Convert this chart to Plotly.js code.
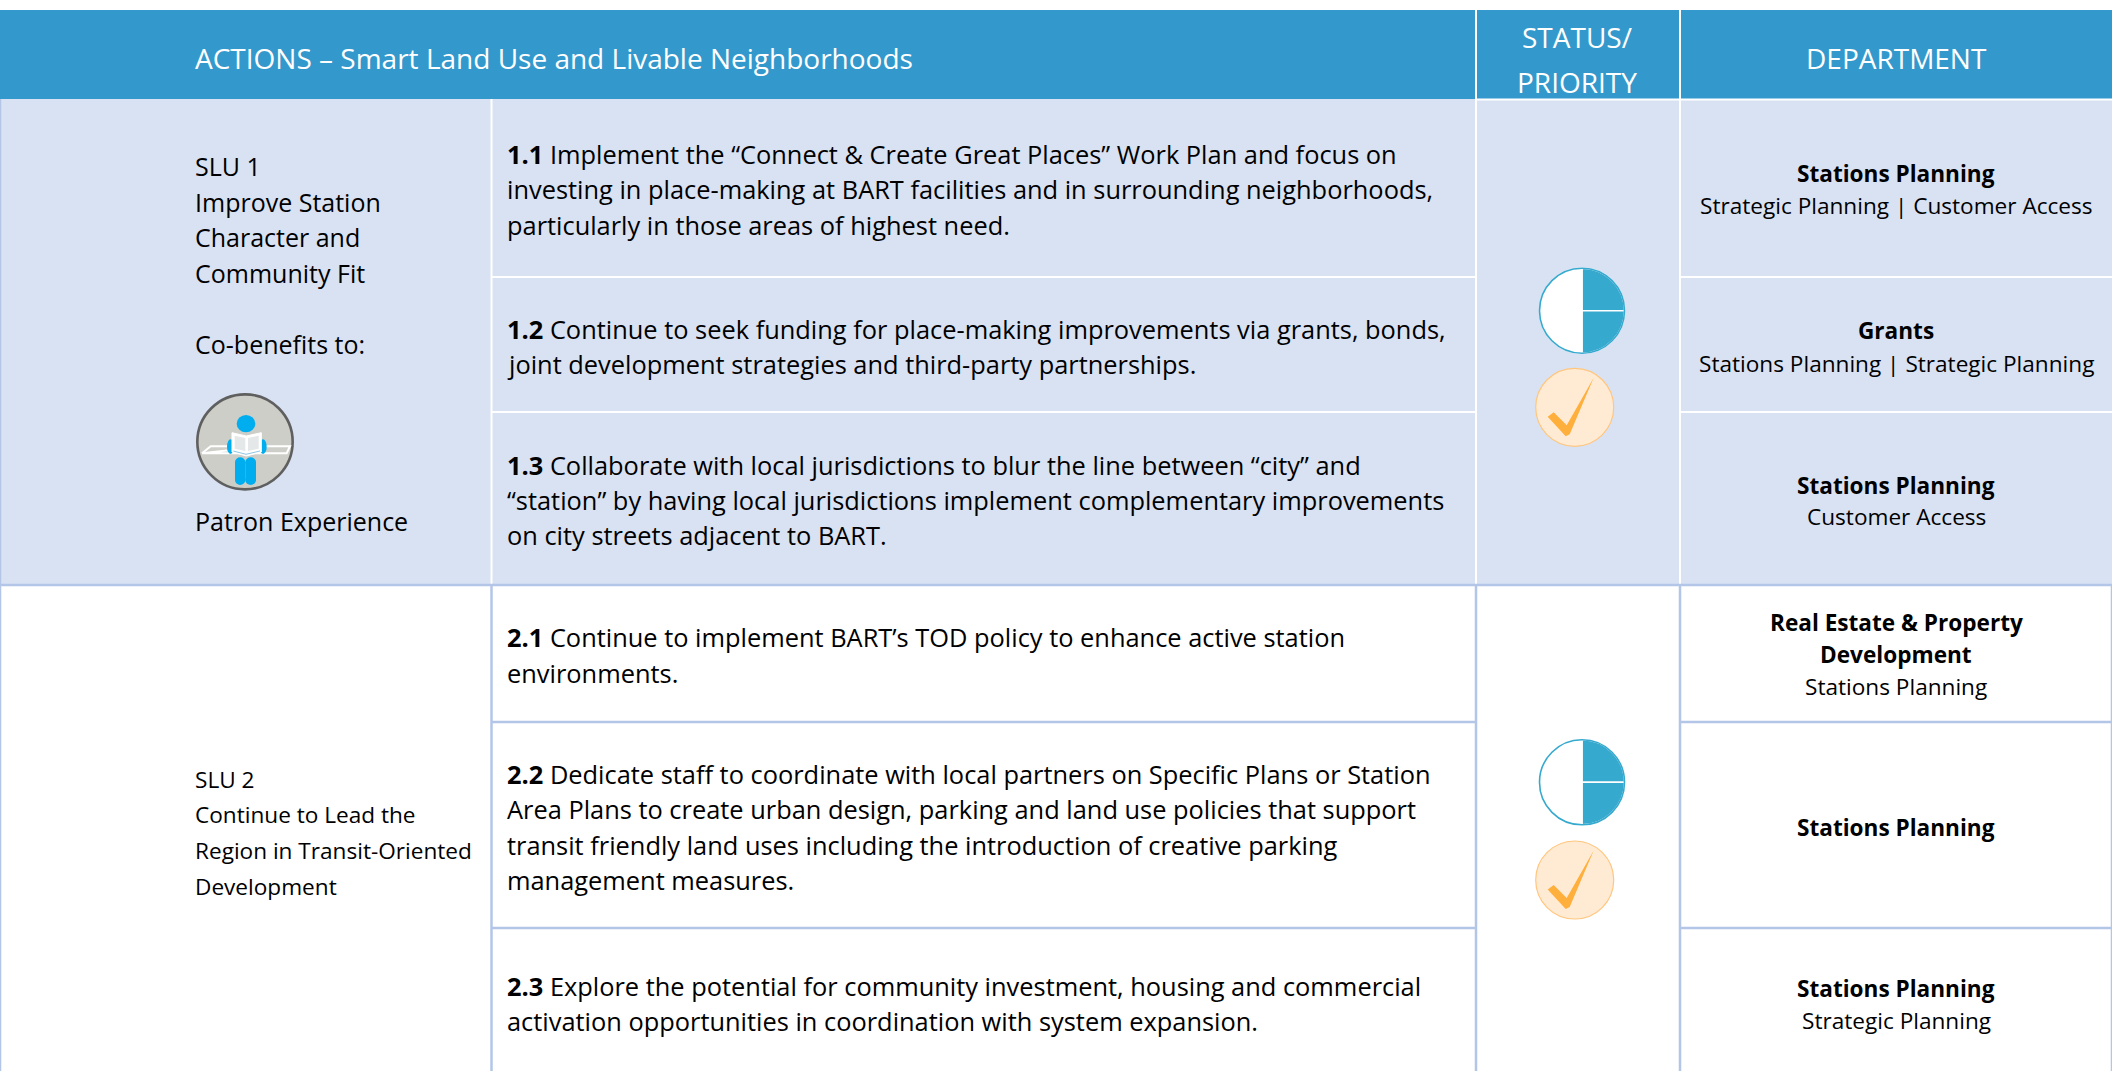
<!DOCTYPE html>
<html><head><meta charset="utf-8">
<script src="https://cdn.plot.ly/plotly-3.0.1.min.js"></script>
<style>html,body{margin:0;padding:0;background:#fff;overflow:hidden}#c{width:2112px;height:1071px}</style>
</head><body><div id="c"></div>
<script>
const FONT='"Open Sans", "Noto Sans", sans-serif';
const BLUE='#3399CC',BAND='#D9E2F3',GRID='#B4C6E7',WHITE='#FFFFFF';
const SIZE=25.4, DEPT=22.6, HEAD=28;

const headerAction=['ACTIONS – Smart Land Use and Livable Neighborhoods'];
const headerStatus=['STATUS/','PRIORITY'];
const headerDept=['DEPARTMENT'];
const slu1=['SLU 1','Improve Station','Character and','Community Fit'];
const slu1Co=['Co-benefits to:'];
const slu1Patron=['Patron Experience'];
const slu2=['SLU 2','Continue to Lead the','Region in Transit-Oriented','Development'];
const a11=['<b>1.1</b> Implement the “Connect & Create Great Places” Work Plan and focus on','investing in place-making at BART facilities and in surrounding neighborhoods,','particularly in those areas of highest need.'];
const a12=['<b>1.2</b> Continue to seek funding for place-making improvements via grants, bonds,','joint development strategies and third-party partnerships.'];
const a13=['<b>1.3</b> Collaborate with local jurisdictions to blur the line between “city” and','“station” by having local jurisdictions implement complementary improvements','on city streets adjacent to BART.'];
const a21=['<b>2.1</b> Continue to implement BART’s TOD policy to enhance active station','environments.'];
const a22=['<b>2.2</b> Dedicate staff to coordinate with local partners on Specific Plans or Station','Area Plans to create urban design, parking and land use policies that support','transit friendly land uses including the introduction of creative parking','management measures.'];
const a23=['<b>2.3</b> Explore the potential for community investment, housing and commercial','activation opportunities in coordination with system expansion.'];
const d11=['<b>Stations Planning</b>','Strategic Planning | Customer Access'];
const d12=['<b>Grants</b>','Stations Planning | Strategic Planning'];
const d13=['<b>Stations Planning</b>','Customer Access'];
const d21=['<b>Real Estate & Property</b>','<b>Development</b>','Stations Planning'];
const d22=['<b>Stations Planning</b>'];
const d23=['<b>Stations Planning</b>','Strategic Planning'];
const statusShare=[25,25,50];

const anns=[];
function put(lines,x,ys,anchor,color,size){
  lines.forEach((t,i)=>anns.push({text:t,x:x,y:ys[i],xref:'x',yref:'y',xanchor:anchor,yanchor:'middle',showarrow:false,
    borderpad:0,align:anchor,font:{family:FONT,size:size||SIZE,color:color||'#000'}}));
}
put(headerAction,194,[57.5],'left','#fff',HEAD);
put(headerStatus,1577,[36.5,81.5],'center','#fff',HEAD);
put(headerDept,1896,[57.5],'center','#fff',HEAD);
put(slu1,194,[166,202,237,273],'left','#000',25);
put(slu1Co,194,[344],'left','#000',25);
put(slu1Patron,194,[521],'left','#000',25);
put(slu2,194,[779,814,850,886],'left','#000',22.6);
put(a11,506,[154,189,225],'left');
put(a12,506,[329,364],'left');
put(a13,506,[465,500,535],'left');
put(a21,506,[637,673],'left');
put(a22,506,[773.5,809,845,880],'left');
put(a23,506,[986,1021],'left');
put(d11,1896,[173.5,205.5],'center','#000',DEPT);
put(d12,1896,[330,363.5],'center','#000',DEPT);
put(d13,1896,[485,516.5],'center','#000',DEPT);
put(d21,1896,[622,654.5,686.5],'center','#000',DEPT);
put(d22,1896,[827],'center','#000',DEPT);
put(d23,1896,[988.5,1020.5],'center','#000',DEPT);

const shapes=[];
function rect(x0,y0,x1,y1,fill,layer){shapes.push({type:'rect',xref:'x',yref:'y',x0,y0,x1,y1,fillcolor:fill,line:{width:0},layer:layer||'below'});}
function seg(x0,y0,x1,y1,c,w){shapes.push({type:'line',xref:'x',yref:'y',x0,y0,x1,y1,line:{color:c,width:w||2},layer:'below'});}
function circ(cx,cy,r,fill,lc,lw,layer){shapes.push({type:'circle',xref:'x',yref:'y',x0:cx-r,x1:cx+r,y0:cy-r,y1:cy+r,fillcolor:fill,line:{color:lc,width:lw},layer:layer||'above'});}
function poly(d,fill,lc,lw){shapes.push({type:'path',xref:'x',yref:'y',path:d,fillcolor:fill,line:{color:lc||fill,width:lw||0},layer:'above'});}

rect(0,10,2112,99,BLUE);
rect(0,99,2112,585,BAND);
seg(1476,10,1476,99,WHITE,2); seg(1680,10,1680,99,WHITE,2);
seg(1476,99.5,2112,99.5,WHITE,2);
[491.5,1476,1680].forEach(x=>seg(x,99,x,585,WHITE,2));
[277,412].forEach(y=>{seg(491,y,1476,y,WHITE,2);seg(1680,y,2112,y,WHITE,2);});
seg(0.5,99,0.5,1071,GRID,1.5);
seg(2111.5,585,2111.5,1071,GRID,1.5);
seg(0,585,2112,585,GRID,2.5);
[491.5,1476,1680].forEach(x=>seg(x,585,x,1071,GRID,2.5));
[722,928].forEach(y=>{seg(491,y,1476,y,GRID,2.5);seg(1680,y,2112,y,GRID,2.5);});

const pieC=[[1582,310.7],[1582,782.3]], R=42.5;
const checkC=[[1574.7,407.3],[1574.7,880]];
checkC.forEach(([cx,cy])=>{
  circ(cx,cy,39,'#FFEBD3','#FFC67F',1.2);
  const p=[[-27,9.5],[-21,5],[-8,18],[19,-29.5],[-5,27],[-9,29]];
  poly('M'+p.map(q=>(cx+q[0])+','+(cy+q[1])).join(' L')+' Z','#FFAF3C');
});
pieC.forEach(([cx,cy])=>circ(cx,cy,R,'rgba(0,0,0,0)','#36A9CF',1.6));

// Patron Experience icon, outline
const zx=x=>170+x/3, zy=y=>370+y/3;
const P=(pts,close)=>'M'+pts.map(q=>zx(q[0]).toFixed(1)+','+zy(q[1]).toFixed(1)).join(' L')+(close?' Z':'');
const ell=(x0,y0,x1,y1,f)=>shapes.push({type:'circle',xref:'x',yref:'y',x0:zx(x0),x1:zx(x1),y0:zy(y0),y1:zy(y1),fillcolor:f,line:{width:0},layer:'above'});
const ICON='#00AEEF';
shapes.push({type:'circle',xref:'x',yref:'y',x0:zx(82),x1:zx(368),y0:zy(73),y1:zy(358),fillcolor:'#CECEC8',line:{color:'#5F5F5F',width:2.6},layer:'above'});
poly(P([[96,250],[122,229],[190,229]]),'rgba(0,0,0,0)','#FFFFFF',2);
poly(P([[280,229],[360,229],[350,250],[96,250]],true),'rgba(0,0,0,0)','#FFFFFF',2);
ell(171,208,192,252,ICON);
ell(268,208,290,252,ICON);
ell(200,135,256,187,ICON);
[[195,226],[226,258]].forEach(([a,b])=>{
  ell(a,262,b,290,ICON);
  rect(zx(a),zy(276),zx(b),zy(330),ICON,'above');
  ell(a,316,b,345,ICON);
});
poly(P([[186,188],[229,198],[274,188],[274,246],[229,258],[186,246]],true),'#FFFFFF','#FFFFFF',1);
poly(P([[194,197],[226,204],[226,243],[194,236]],true),'#E4E8E8');
poly(P([[234,204],[266,197],[266,236],[234,243]],true),'#E4E8E8');
poly(P([[190,243],[228,253],[270,243]]),'rgba(0,0,0,0)','#8FC7E4',1);

const W=2112,H=1071;
const traces=[{type:'scatter',x:[0,2112],y:[0,1071],mode:'none',showlegend:false,hoverinfo:'skip'}];
pieC.forEach(([cx,cy])=>traces.push({type:'pie',values:statusShare,sort:false,direction:'clockwise',rotation:0,textinfo:'none',hoverinfo:'skip',showlegend:false,
  marker:{colors:['#36A9CF','#36A9CF','#FFFFFF'],line:{color:'#FFFFFF',width:1.5}},
  domain:{x:[(cx-R)/W,(cx+R)/W],y:[1-(cy+R)/H,1-(cy-R)/H]}}));

Plotly.newPlot('c',traces,{
  width:W,height:H,margin:{l:0,r:0,t:0,b:0,pad:0},paper_bgcolor:'#fff',plot_bgcolor:'rgba(0,0,0,0)',showlegend:false,hovermode:false,
  xaxis:{range:[0,W],visible:false,fixedrange:true},
  yaxis:{range:[H,0],visible:false,fixedrange:true},
  shapes:shapes,annotations:anns
},{displayModeBar:false,staticPlot:true});
</script></body></html>
